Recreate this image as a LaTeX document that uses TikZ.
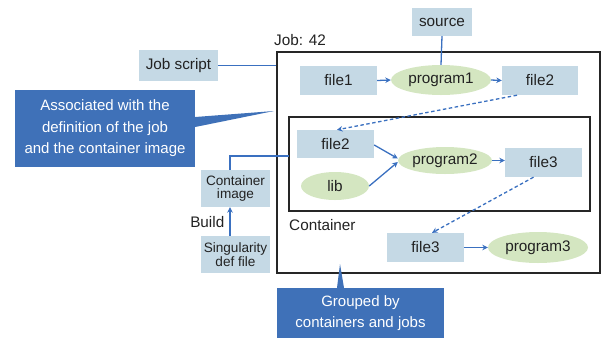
\documentclass[tikz,border=0pt]{standalone}
\usepackage{fontspec}
\setmainfont{Liberation Sans}
\usetikzlibrary{shapes.geometric,arrows.meta}
\definecolor{filefill}{HTML}{C5D9E5}
\definecolor{progfill}{HTML}{D4E6C1}
\definecolor{calloutblue}{HTML}{3F71B8}
\definecolor{linkblue}{HTML}{3A70C0}
\definecolor{framecol}{HTML}{262626}
\definecolor{txt}{HTML}{222222}
\newcommand{\mainsz}{\fontsize{15.3}{17}\selectfont}
\newcommand{\smallsz}{\fontsize{13.6}{13.6}\selectfont}
\newcommand{\calloutsz}{\fontsize{15}{21.5}\selectfont}
\begin{document}
\begin{tikzpicture}[x=1pt,y=-1pt,
  filebox/.style={rectangle, fill=filefill, text=txt, inner sep=0pt, font=\mainsz},
  smallbox/.style={rectangle, fill=filefill, text=txt, inner sep=0pt, font=\smallsz, align=center},
  prog/.style={ellipse, fill=progfill, text=txt, inner sep=0pt, font=\mainsz},
  frame/.style={rectangle, draw=framecol, line width=2.2pt, inner sep=0pt},
  callout/.style={rectangle, fill=calloutblue, text=white, inner sep=0pt, font=\calloutsz, align=center},
  plain/.style={text=txt, inner sep=0pt, font=\mainsz},
  link/.style={draw=linkblue, line width=1.3pt},
  flow/.style={link, -{Stealth[length=5.5pt,width=5.5pt]}},
  dflow/.style={flow, dash pattern=on 3.5pt off 2.5pt}]
\useasboundingbox (0,0) rectangle (602,338);

% frames
\node[frame, minimum width=323pt, minimum height=221pt] (job) at (438.5,162.5) {};
\node[frame, minimum width=301pt, minimum height=94pt] (cont) at (439.5,164) {};
\node[plain, anchor=west] (joblabel) at (274,40) {Job: 42};
\node[plain, anchor=west] (contlabel) at (289,225) {Container};

% job-level steps
\node[filebox, minimum width=60pt, minimum height=28pt] (source) at (442,22) {source};
\node[filebox, minimum width=77pt, minimum height=29pt] (f1) at (338.5,80.5) {file1};
\node[prog, minimum width=100pt, minimum height=30pt] (p1) at (441,80) {program1};
\node[filebox, minimum width=76pt, minimum height=29pt] (f2t) at (540,80.5) {file2};

% container steps
\node[filebox, minimum width=77pt, minimum height=28pt] (f2b) at (335.5,144) {file2};
\node[prog, minimum width=94pt, minimum height=27pt] (p2) at (445,160.5) {program2};
\node[filebox, minimum width=77pt, minimum height=29pt] (f3) at (543.5,162.5) {file3};
\node[prog, minimum width=68pt, minimum height=28pt] (lib) at (335,186) {lib};

% after the container
\node[filebox, minimum width=77pt, minimum height=29pt] (f3l) at (425.5,247.5) {file3};
\node[prog, minimum width=100pt, minimum height=31pt] (p3) at (538,247.5) {program3};

% inputs on the left
\node[filebox, minimum width=79pt, minimum height=31pt] (js) at (178.5,65.5) {Job script};
\node[smallbox, minimum width=69pt, minimum height=37pt] (ci) at (235.5,188.5) {Container\\image};
\node[smallbox, minimum width=69pt, minimum height=37pt] (sing) at (235.5,254.5) {Singularity\\def file};
\node[plain, anchor=east] (build) at (224.5,222) {Build};

% callouts
\node[callout, minimum width=180pt, minimum height=77pt] (co1) at (105,128.5)
  {Associated with the\\definition of the job\\and the container image};
\coordinate (tip1) at (274,111);
\fill[calloutblue] ([yshift=11.5pt]co1.east) -- (tip1) -- ([yshift=1.5pt]co1.east) -- cycle;
\node[callout, minimum width=167pt, minimum height=50pt] (co2) at (360.5,313)
  {Grouped by\\containers and jobs};
\coordinate (tip2) at (340,264);
\fill[calloutblue] ([xshift=-23.5pt]co2.north) -- (tip2) -- ([xshift=-16.5pt]co2.north) -- cycle;

% connectors
\draw[link] (source.south) -- (p1.north);
\draw[flow] (f1.east) -- (p1.west);
\draw[flow] (p1.east) -- (f2t.west);
\draw[dflow] ([xshift=-23pt]f2t.south) -- ([xshift=1.5pt]f2b.north);
\draw[flow] ([yshift=-1pt]f2b.east) -- ([yshift=2pt]p2.west);
\draw[flow] (lib.east) -- ([yshift=-1.5pt]p2.west);
\draw[flow] (p2.east) -- (p2.east -| f3.west);
\draw[dflow] ([xshift=-10pt]f3.south) -- ([xshift=6.5pt]f3l.north);
\draw[flow] (f3l.east) -- (f3l.east -| p3.west);
\draw[link] (js.east) -- (js.east -| job.west);
\coordinate (ciend) at (289,156);
\draw[link] ([xshift=-5.5pt]ci.north) |- (ciend);
\draw[flow] ([xshift=-5.5pt]sing.north) -- ([xshift=-5.5pt]ci.south);
\end{tikzpicture}
\end{document}
